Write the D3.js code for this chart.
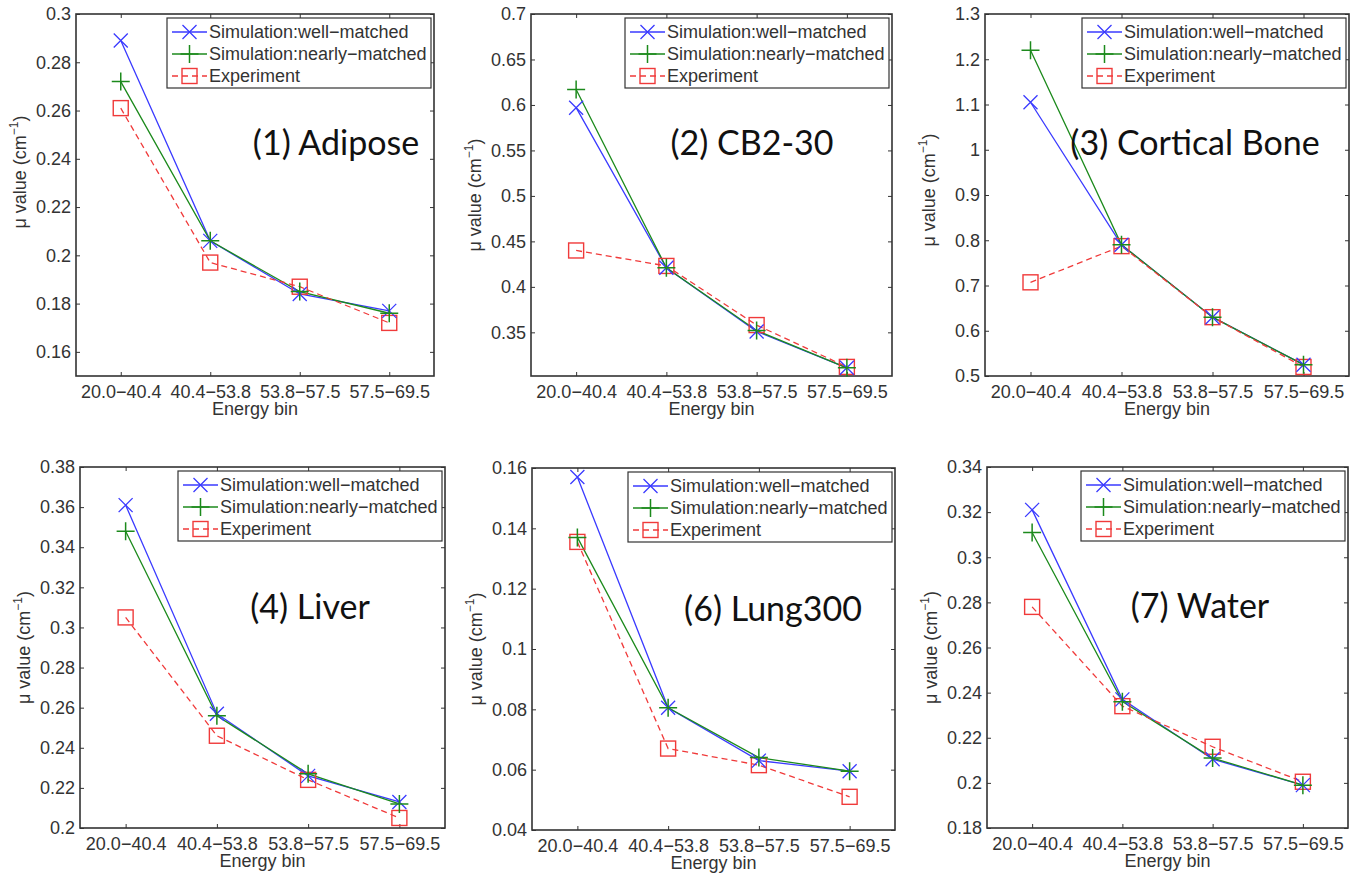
<!DOCTYPE html>
<html>
<head>
<meta charset="utf-8">
<script src="https://cdn.jsdelivr.net/npm/d3@7"></script>
<style>
  body { margin: 0; background: #fff; }
  svg text { font-family: "Liberation Sans", Arial, sans-serif; fill: #333; }
  .title { font-family: Lato, "Open Sans", sans-serif !important; fill: #111 !important; }
</style>
</head>
<body>
<div id="chart"></div>
<script>
// categories and legend names
var bins = ["20.0\u221240.4", "40.4\u221253.8", "53.8\u221257.5", "57.5\u221269.5"];
var seriesNames = ["Simulation:well\u2212matched", "Simulation:nearly\u2212matched", "Experiment"];

// (1) Adipose
var adiposeWell = [0.289, 0.206, 0.184, 0.177];
var adiposeNearly = [0.272, 0.206, 0.185, 0.176];
var adiposeExp = [0.261, 0.197, 0.187, 0.172];
var adiposeTicks = [0.16, 0.18, 0.2, 0.22, 0.24, 0.26, 0.28, 0.3];

// (2) CB2-30
var cbWell = [0.597, 0.421, 0.351, 0.311];
var cbNearly = [0.617, 0.421, 0.352, 0.311];
var cbExp = [0.440, 0.423, 0.358, 0.312];
var cbTicks = [0.35, 0.4, 0.45, 0.5, 0.55, 0.6, 0.65, 0.7];

// (3) Cortical Bone
var boneWell = [1.105, 0.790, 0.630, 0.525];
var boneNearly = [1.220, 0.790, 0.630, 0.525];
var boneExp = [0.707, 0.787, 0.630, 0.520];
var boneTicks = [0.5, 0.6, 0.7, 0.8, 0.9, 1, 1.1, 1.2, 1.3];

// (4) Liver
var liverWell = [0.361, 0.257, 0.226, 0.213];
var liverNearly = [0.348, 0.256, 0.227, 0.212];
var liverExp = [0.305, 0.246, 0.224, 0.205];
var liverTicks = [0.2, 0.22, 0.24, 0.26, 0.28, 0.3, 0.32, 0.34, 0.36, 0.38];

// (6) Lung300
var lungWell = [0.157, 0.0805, 0.063, 0.0595];
var lungNearly = [0.137, 0.0805, 0.064, 0.0595];
var lungExp = [0.1355, 0.067, 0.0615, 0.051];
var lungTicks = [0.04, 0.06, 0.08, 0.1, 0.12, 0.14, 0.16];

// (7) Water
var waterWell = [0.321, 0.237, 0.2105, 0.199];
var waterNearly = [0.311, 0.236, 0.211, 0.199];
var waterExp = [0.278, 0.234, 0.216, 0.2005];
var waterTicks = [0.18, 0.2, 0.22, 0.24, 0.26, 0.28, 0.3, 0.32, 0.34];

var width = 1360;
var height = 873;

var colors = ["#3a3aff", "#1c8a1c", "#f03a3a"];

// layout of each subplot
var panels = [
    {title: "(1) Adipose", well: adiposeWell, nearly: adiposeNearly, exp: adiposeExp, ticks: adiposeTicks,
     domain: [0.15, 0.3], left: 76, top: 14, right: 434, bottom: 376, titleX: 336, titleY: 155, labelShift: -23},
    {title: "(2) CB2-30", well: cbWell, nearly: cbNearly, exp: cbExp, ticks: cbTicks,
     domain: [0.302, 0.7], left: 531, top: 14, right: 892, bottom: 376, titleX: 752, titleY: 155, labelShift: 0},
    {title: "(3) Cortical Bone", well: boneWell, nearly: boneNearly, exp: boneExp, ticks: boneTicks,
     domain: [0.5, 1.3], left: 985, top: 14, right: 1349, bottom: 376, titleX: 1195, titleY: 155, labelShift: -5},
    {title: "(4) Liver", well: liverWell, nearly: liverNearly, exp: liverExp, ticks: liverTicks,
     domain: [0.2, 0.38], left: 80, top: 467, right: 445, bottom: 828, titleX: 310, titleY: 619, labelShift: 0},
    {title: "(6) Lung300", well: lungWell, nearly: lungNearly, exp: lungExp, ticks: lungTicks,
     domain: [0.04, 0.16], left: 532, top: 468, right: 895, bottom: 830, titleX: 773, titleY: 621, labelShift: 0},
    {title: "(7) Water", well: waterWell, nearly: waterNearly, exp: waterExp, ticks: waterTicks,
     domain: [0.18, 0.34], left: 987, top: 467, right: 1348, bottom: 828, titleX: 1200, titleY: 618, labelShift: 0}
];

var svg = d3.select("#chart")
    .append("svg")
    .attr("width", width)
    .attr("height", height);

var fmt = function(d) { return String(+d.toFixed(3)); };

// marker shapes: x, +, square
function drawMarker(g, type, cx, cy, color) {
    if (type == 0) {
        var r = 7;
        g.append("path")
            .attr("d", "M" + (cx - r) + "," + (cy - r) + "L" + (cx + r) + "," + (cy + r) +
                       "M" + (cx - r) + "," + (cy + r) + "L" + (cx + r) + "," + (cy - r))
            .attr("stroke", color).attr("stroke-width", 1.3).attr("fill", "none");
    } else if (type == 1) {
        var r = 9;
        g.append("path")
            .attr("d", "M" + (cx - r) + "," + cy + "L" + (cx + r) + "," + cy +
                       "M" + cx + "," + (cy - r) + "L" + cx + "," + (cy + r))
            .attr("stroke", color).attr("stroke-width", 1.5).attr("fill", "none");
    } else {
        var s = 7.5;
        g.append("rect")
            .attr("x", cx - s).attr("y", cy - s)
            .attr("width", 2 * s).attr("height", 2 * s)
            .attr("stroke", color).attr("stroke-width", 1.4).attr("fill", "none");
    }
}

panels.forEach(function(p) {
    var w = p.right - p.left;
    var h = p.bottom - p.top;
    var g = svg.append("g").attr("transform", "translate(" + p.left + "," + p.top + ")");

    var x = d3.scalePoint().domain(bins).range([0, w]).padding(0.5);
    var y = d3.scaleLinear().domain(p.domain).range([h, 0]);

    // axes with inward ticks on all four sides
    var axL = g.append("g").call(d3.axisLeft(y).tickValues(p.ticks).tickSize(-4).tickPadding(5).tickFormat(fmt));
    var axR = g.append("g").attr("transform", "translate(" + w + ",0)")
        .call(d3.axisRight(y).tickValues(p.ticks).tickSize(-4).tickFormat(""));
    var axB = g.append("g").attr("transform", "translate(0," + h + ")")
        .call(d3.axisBottom(x).tickSize(-4).tickPadding(9));
    var axT = g.append("g")
        .call(d3.axisTop(x).tickSize(-4).tickFormat(""));
    [axL, axR, axB, axT].forEach(function(a) {
        a.select(".domain").remove();
        a.selectAll("line").attr("stroke", "#333").attr("stroke-width", 1);
        a.selectAll("text").attr("font-size", 18).attr("fill", "#333")
            .style("font-family", "'Liberation Sans', Arial, sans-serif");
    });

    g.append("rect")
        .attr("width", w).attr("height", h)
        .attr("fill", "none").attr("stroke", "#333").attr("stroke-width", 1.6);

    // axis labels
    g.append("text")
        .attr("x", w / 2).attr("y", h + 39)
        .attr("text-anchor", "middle")
        .attr("font-size", 18)
        .text("Energy bin");

    var yl = g.append("text")
        .attr("transform", "translate(" + (-50) + "," + (h / 2 + p.labelShift) + ") rotate(-90)")
        .attr("text-anchor", "middle")
        .attr("font-size", 18);
    yl.append("tspan").text("\u03bc value (cm");
    yl.append("tspan").attr("font-size", 12).attr("dy", -8).text("\u22121");
    yl.append("tspan").attr("dy", 8).text(")");

    // series
    var data = [p.well, p.nearly, p.exp];
    var line = d3.line()
        .x(function(d, i) { return x(bins[i]); })
        .y(function(d) { return y(d); });

    data.forEach(function(vals, k) {
        g.append("path")
            .datum(vals)
            .attr("d", line)
            .attr("fill", "none")
            .attr("stroke", colors[k])
            .attr("stroke-width", 1.3)
            .attr("stroke-dasharray", k == 2 ? "6,4" : null);
    });
    // draw markers, experiment squares first so the sim markers sit on top
    [2, 0, 1].forEach(function(k) {
        data[k].forEach(function(v, i) {
            drawMarker(g, k, x(bins[i]), y(v), colors[k]);
        });
    });

    // title inside the plot
    svg.append("text")
        .attr("class", "title")
        .attr("x", p.titleX).attr("y", p.titleY)
        .attr("text-anchor", "middle")
        .attr("font-size", 34)
        .text(p.title);

    // legend
    var lw = 264, lh = 70;
    var lg = g.append("g").attr("transform", "translate(" + (w - lw - 3) + ",4)");
    lg.append("rect")
        .attr("width", lw).attr("height", lh)
        .attr("fill", "#fff").attr("stroke", "#333").attr("stroke-width", 1.2);
    seriesNames.forEach(function(name, k) {
        var ly = 14 + k * 22;
        lg.append("line")
            .attr("x1", 5).attr("x2", 40).attr("y1", ly).attr("y2", ly)
            .attr("stroke", colors[k]).attr("stroke-width", 1.3)
            .attr("stroke-dasharray", k == 2 ? "6,4" : null);
        drawMarker(lg, k, 22.5, ly, colors[k]);
        lg.append("text")
            .attr("x", 42).attr("y", ly + 6)
            .attr("font-size", 18)
            .text(name);
    });
});
</script>
</body>
</html>
